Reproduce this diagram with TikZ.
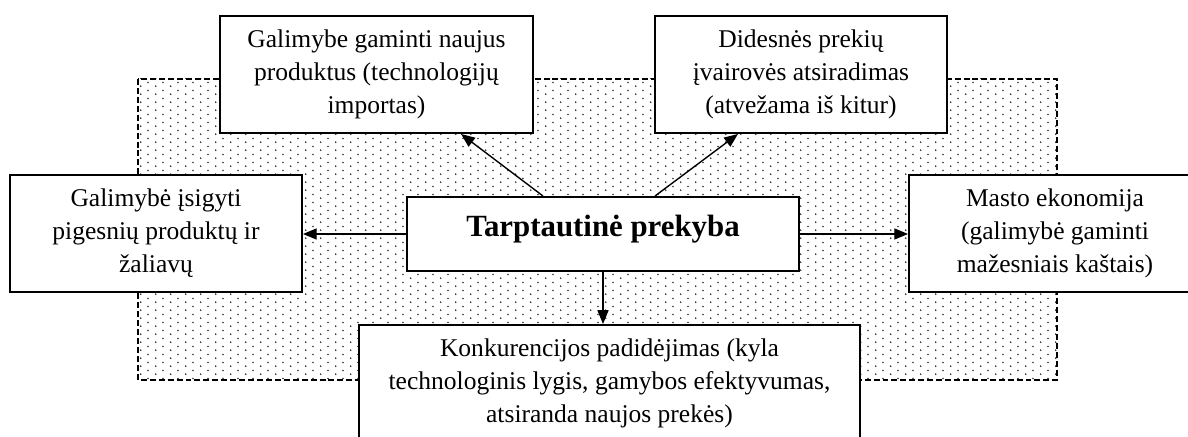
\documentclass[tikz,border=0pt]{standalone}
\usepackage{fontspec}
\setmainfont{Liberation Serif}
\usetikzlibrary{calc,arrows.meta,patterns.meta}
\tikzdeclarepattern{
  name=fine dots,
  type=uncolored,
  bounding box={(0,0) and (7.2pt,3.6pt)},
  tile size={(7.2pt,3.6pt)},
  code={
    \fill (1.8pt,0.9pt) circle (0.45pt);
    \fill (5.4pt,2.7pt) circle (0.45pt);
  }
}
\tikzset{
  box/.style={draw=black, fill=white, line width=0.9pt, align=center, inner sep=2pt,
    minimum width=137.2pt, minimum height=55pt, font=\fontsize{12}{15.5}\selectfont},
  main/.style={box, font=\fontsize{14.5}{17}\selectfont\bfseries,
    minimum width=184.2pt, minimum height=34.8pt, text depth=7.5pt},
  link/.style={-{Triangle[length=6.5pt,width=5.2pt]}, draw=black, line width=0.65pt},
  zone/.style={draw=black, line width=0.7pt, dash pattern=on 2.8pt off 1.4pt,
    pattern={fine dots}, pattern color=black!80}
}

\begin{document}
\begin{tikzpicture}[x=0.47pt, y=-0.47pt]
  \useasboundingbox (0,0) rectangle (1188,437);

  % dotted background
  \draw[zone] (138,79) rectangle (1057,380);

  \node[main] (prekyba) at (603,234) {Tarptautinė prekyba};
  \node[box, minimum width=147.1pt] (gamyba) at (376.5,74.5)
    {Galimybe gaminti naujus\\ produktus (technologijų\\ importas)};
  \node[box] (ivairove) at (801,74.5)
    {Didesnės prekių\\ įvairovės atsiradimas\\ (atvežama iš kitur)};
  \node[box] (pigiau) at (156,233.5)
    {Galimybė įsigyti\\ pigesnių produktų ir\\ žaliavų};
  \node[box] (masto) at (1055,233.5)
    {Masto ekonomija\\ (galimybė gaminti\\ mažesniais kaštais)};
  \node[box, minimum width=235.5pt] (konkur) at (609.5,383.5)
    {Konkurencijos padidėjimas (kyla\\ technologinis lygis, gamybos efektyvumas,\\ atsiranda naujos prekės)};

  % arrows
  \draw[link] (prekyba.west) -- (prekyba.west -| pigiau.east);
  \draw[link] (prekyba.east) -- (prekyba.east -| masto.west);
  \draw[link] (prekyba.south) -- (prekyba.south |- konkur.north);
  \draw[link] ($(prekyba.north)+(-60,0)$) -- ($(gamyba.south)+(84.5,0)$);
  \draw[link] ($(prekyba.north)+(52,0)$) -- ($(ivairove.south)+(-63,0)$);
\end{tikzpicture}
\end{document}
